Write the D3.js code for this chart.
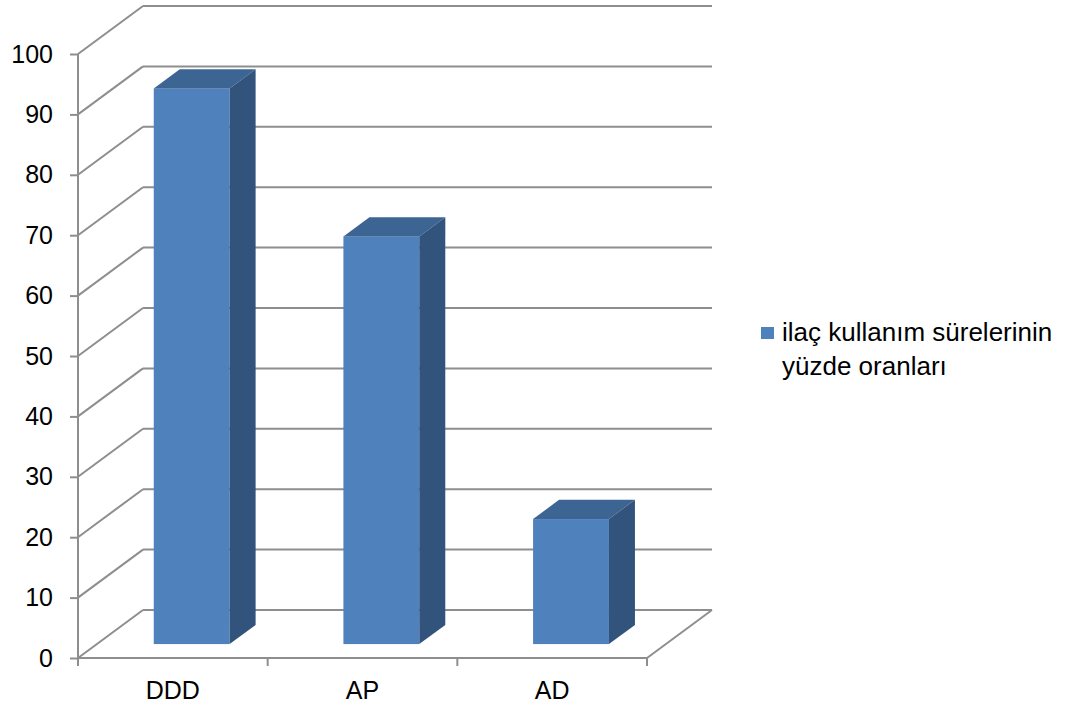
<!DOCTYPE html>
<html>
<head>
    <meta charset="utf-8">
    <title>3D Column Chart</title>
    <script src="https://d3js.org/d3.v7.min.js"></script>
    <style>
        body { margin: 0; background: #fff; }
        text { font-family: "Liberation Sans", Arial, sans-serif; fill: #000; }
    </style>
</head>
<body>
<script>
// chart data
const categories = ['DDD', 'AP', 'AD'];
const values = [92, 67.5, 20.7];
const yTicks = [0, 10, 20, 30, 40, 50, 60, 70, 80, 90, 100];
const seriesName = ['ilaç kullanım sürelerinin', 'yüzde oranları'];

const W = 1067, H = 708;

const svg = d3.select('body')
    .append('svg')
    .attr('width', W)
    .attr('height', H);

// front plane of the plot and depth offset of the 3D box
const plotLeft = 78, plotRight = 647, plotBottom = 658, plotTop = 54;
const depthX = 65, depthY = -48;

const y = d3.scaleLinear().domain([0, 100]).range([plotBottom, plotTop]);
const x = d3.scaleBand().domain(categories).range([plotLeft, plotRight]);

const gridColor = '#8e8e8e';

// gridlines: back wall lines and left wall diagonals
const grid = svg.append('g')
    .attr('stroke', gridColor)
    .attr('stroke-width', 2)
    .attr('fill', 'none');

grid.selectAll('.back')
    .data(yTicks)
    .enter()
    .append('line')
    .attr('x1', plotLeft + depthX)
    .attr('x2', plotRight + depthX)
    .attr('y1', d => y(d) + depthY)
    .attr('y2', d => y(d) + depthY);

grid.selectAll('.side')
    .data(yTicks)
    .enter()
    .append('line')
    .attr('x1', plotLeft)
    .attr('x2', plotLeft + depthX)
    .attr('y1', d => y(d))
    .attr('y2', d => y(d) + depthY);

// floor right edge
grid.append('line')
    .attr('x1', plotRight).attr('y1', y(0))
    .attr('x2', plotRight + depthX).attr('y2', y(0) + depthY);

// y axis
const yAxis = svg.append('g')
    .attr('transform', `translate(${plotLeft},0)`)
    .call(d3.axisLeft(y).tickValues(yTicks).tickSize(8).tickPadding(17));
yAxis.selectAll('line, path').attr('stroke', gridColor).attr('stroke-width', 2);
yAxis.select('.domain').attr('d', `M0,${plotTop}V${plotBottom}`);
yAxis.selectAll('text')
    .style('font-size', '25px')
    .style('font-family', '"Liberation Sans", Arial, sans-serif');

// x axis: front floor edge and category ticks
const xAxis = svg.append('g')
    .attr('transform', `translate(0,${plotBottom})`)
    .call(d3.axisBottom(x).tickSize(0).tickPadding(23));
xAxis.select('.domain').attr('d', `M${plotLeft},0H${plotRight}`)
    .attr('stroke', gridColor).attr('stroke-width', 2);
xAxis.selectAll('text')
    .style('font-size', '25px')
    .style('font-family', '"Liberation Sans", Arial, sans-serif');

const boundaries = categories.map(c => x(c)).concat([plotRight]);
xAxis.selectAll('.bound')
    .data(boundaries)
    .enter()
    .append('line')
    .attr('x1', d => d).attr('x2', d => d)
    .attr('y1', 0).attr('y2', 8)
    .attr('stroke', gridColor).attr('stroke-width', 2);

// bars as 3D boxes
const frontDepth = 0.29, backDepth = 0.69;
const barW = x.bandwidth() * 0.4;
const bdx = depthX * (backDepth - frontDepth);
const bdy = depthY * (backDepth - frontDepth);

const bars = svg.selectAll('.bar')
    .data(categories.map((c, i) => ({ cat: c, value: values[i] })))
    .enter()
    .append('g');

const fx = d => x(d.cat) + depthX * frontDepth + (x.bandwidth() - barW) / 2;
const fy = v => y(v) + depthY * frontDepth;

bars.append('rect')
    .attr('x', d => fx(d))
    .attr('y', d => fy(d.value))
    .attr('width', barW)
    .attr('height', d => fy(0) - fy(d.value))
    .attr('fill', '#4f81bd');

bars.append('path')
    .attr('fill', '#3d6594')
    .attr('d', d => {
        const x0 = fx(d), y0 = fy(d.value);
        return `M${x0},${y0}L${x0 + bdx},${y0 + bdy}L${x0 + barW + bdx},${y0 + bdy}L${x0 + barW},${y0}Z`;
    });

bars.append('path')
    .attr('fill', '#32537b')
    .attr('d', d => {
        const x1 = fx(d) + barW, y0 = fy(d.value), y1 = fy(0);
        return `M${x1},${y0}L${x1 + bdx},${y0 + bdy}L${x1 + bdx},${y1 + bdy}L${x1},${y1}Z`;
    });

// legend
const legend = svg.append('g').attr('transform', 'translate(761,327)');
legend.append('rect')
    .attr('width', 13).attr('height', 12)
    .attr('fill', '#4f81bd');
legend.selectAll('text')
    .data(seriesName)
    .enter()
    .append('text')
    .attr('x', 21)
    .attr('y', (d, i) => 14 + i * 34)
    .style('font-size', '26px')
    .text(d => d);
</script>
</body>
</html>
